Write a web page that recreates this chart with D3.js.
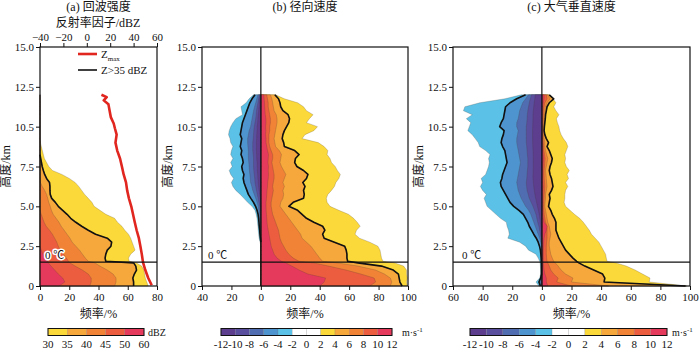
<!DOCTYPE html>
<html><head><meta charset="utf-8">
<script src="https://cdn.jsdelivr.net/npm/d3@7"></script>
<style>
body{margin:0;background:#fff}
svg{display:block}
text{font-family:"Liberation Serif","Times New Roman","Noto Sans CJK SC",serif;fill:#111}
</style>
</head><body>
<svg id="chart" width="700" height="350"></svg>
<script>
// Height levels (km) shared by every frequency profile
const heights = [0,0.25,0.5,0.75,1,1.25,1.45,1.55,1.75,2,
  2.25,2.5,2.75,3,3.25,3.5,3.75,4,4.25,4.5,
  4.75,5,5.25,5.5,5.75,6,6.25,6.5,6.75,7,
  7.25,7.5,7.75,8,8.25,8.5,8.75,9,9.25,9.5,
  9.75,10,10.25,10.5,10.75,11,11.25,11.5,11.75,12];

// (a) frequency (%) of reflectivity above 30/35/40/45/50 dBZ
const refl30 = [74,73,72,71.5,71,69.5,66,61,60.5,62, 65,64,63,62,60.5,58,56,53,51,45, 41,37,35.5,33,30.5,28.5,26.5,24,20,15, 8.5,6,4.5,3,2.3,1.6,0.9,0.3,0,0, 0,0,0,0,0,0,0,0,0,0];
const refl35 = [64,64,63.5,64.5,66,65.5,64,45,44.5,45, 46,48.5,49,46,38,33,28.5,24.5,21,18.5, 15.5,12.5,10.5,8,7,6.8,6.8,6.5,4.5,3.2, 2.3,1.5,1,0.5,0,0,0,0,0,0, 0,0,0,0,0,0,0,0,0,0];
const refl40 = [51,52,52,50,46,41,37.5,33,31,29, 27,24.5,22,20.5,18.5,16.5,14.5,13,11,9, 7.8,7,6,5.3,4.5,3.2,1.5,0.3,0,0, 0,0,0,0,0,0,0,0,0,0, 0,0,0,0,0,0,0,0,0,0];
const refl45 = [34,35,35,33,29,24,20.5,19.5,18,16, 14,12.5,11.5,10,8.5,6.5,4.2,2.8,1.8,0.8, 0,0,0,0,0,0,0,0,0,0, 0,0,0,0,0,0,0,0,0,0, 0,0,0,0,0,0,0,0,0,0];
const refl50 = [13,17,15.5,12.5,10,7.5,5.7,5,3.5,2, 0.8,0,0,0,0,0,0,0,0,0, 0,0,0,0,0,0,0,0,0,0, 0,0,0,0,0,0,0,0,0,0, 0,0,0,0,0,0,0,0,0,0];

// (a) maximum reflectivity profile (dBZ, upper axis)
const zmaxHeights = [0.05,0.5,1,1.5,2,2.5,3,3.5,4,4.5,5,5.5,6,6.5,7,7.5,8,8.5,9,9.5,9.9,10.2,10.6,11,11.4,11.65,11.85,12];
const zmaxValues  = [55.5,52.5,50,48,47,45.8,44.5,42.6,41,39.5,38,36,34.5,33.5,31.5,30,28.4,26,24.5,25.5,24,23,20.5,19.5,18.5,14.5,17,12.5];

// (b) radial velocity: frequency (%) of V > 2..10 and V < -2..-10 m/s
const radPos2  = [99.5,99,99.5,99,99,97,91,83,82,81.5, 81,79.5,74,67,64,65,67.5,65.5,63,59.5, 53,47,45,44.5,45.5,48,50,51,53,54, 52,50.5,48,47,45,45.5,43,39,28,30, 36,38.5,31,33,35.5,31,29,25,16,10];
const radPos4  = [96,94.5,94,93.5,90,82,66,59,58.5,58.5, 58,57,50,43,42,43.5,42,36,31,28, 25,19,22,29,29.5,29,30,28.5,31,32, 29,24.5,23,23.5,26,23,16,15.5,14.5,15, 16,17.5,19,19.5,18.5,15,13.5,13,12,9.5];
const radPos6  = [88,89,88,84,78,66,52,42,40,38, 36,34,31,28,27,25,23,21,19,17, 15,13,13.5,15,15.5,15,16,15,16,17, 15.5,14,13,13.5,14,12.5,10,9.5,9,9.5, 10,10.5,11,11,10.5,9,8.5,8,7.5,6.5];
const radPos8  = [74,78,77,68,58,46,36,26,22,19, 17,15.5,14,13,12.5,12,11,10,9,8, 7.5,7,7,7.5,8,8.5,8,8.5,9,9, 8.5,8,7.5,8,8,7,6,5.5,5.5,5.5, 6,6,6.5,6.5,6,5.5,5,5,4.5,4];
const radPos10 = [40,43,44,32,26,21,17,14,11,9, 8,7,6.5,6,5.5,5,4.5,4.2,4,3.8, 3.6,3.5,3.5,3.8,4,4.2,4.5,4.6,5,5.2, 5,5.2,4.8,5,5.2,4.5,4,3.5,3.5,3.2, 3.4,3.2,3.5,3.4,3,2.8,2.6,2.5,2.2,2];
const radNeg2  = [0,0,0,0,0,0,0,0,0,0, 0,0,0.5,1.2,1.5,1.8,2,2.3,2.6,3.2, 4,6,9,11.5,14,17,19,20,18.5,20.5, 21.5,19.5,20.5,19,20.5,20,19,20.5,21,22, 21.5,20.5,19,17,12.5,13,13.5,10,8,5];
const radNeg4  = [0,0,0,0,0,0,0,0,0,0, 0,0,0,0.3,0.6,0.8,1.1,1.3,1.5,1.9, 2.6,3.6,5,6.8,8.5,9.5,10.5,11.5,12,11.5, 12.5,13,12,12.5,13.5,13,14,13.5,13,14, 13.5,13,12.5,11.5,10.5,9.5,8.5,7.5,6,4];
const radNeg6  = [0,0,0,0,0,0,0,0,0,0, 0,0,0,0,0,0.4,0.5,0.7,0.8,1, 1.4,1.8,2.6,3.5,4.5,5.5,6.2,7,7.2,7.5, 7.8,8,8.2,8.5,8.5,8.5,8.8,9,9,8.5, 8,7,6.5,6,5.5,5,4.3,3.5,2.8,2];
const radNeg8  = [0,0,0,0,0,0,0,0,0,0, 0,0,0,0,0,0,0,0,0,0.4, 0.6,0.8,1.3,1.8,2.4,3,3.5,4,4.2,4.5, 4.8,5,5,5,5.2,5.5,5.5,5.5,5.2,5, 4.8,4.5,4,3.5,3.2,3,2.5,2,1.5,1];
const radNeg10 = [0,0,0,0,0,0,0,0,0,0, 0,0,0,0,0,0,0,0,0,0, 0,0,0.2,0.5,0.8,1.2,1.5,1.8,2,2.2, 2.4,2.5,2.6,2.8,2.9,3,3,3,2.9,2.8, 2.6,2.5,2.2,2,1.8,1.5,1.2,1,0.8,0.5];

// (c) vertical air velocity: frequency (%) of W > 2..10 and W < -2..-10 m/s
const vertPos2  = [98,72.5,73,68,63,57,50,44,43.5,43, 41.5,40,38.5,36,33.5,32,30,28,25.5,22, 19,16,15,15.5,15.5,16,17.5,16,18,17, 18.5,16.5,15.5,16,15.5,16.5,17.5,16.5,14.5,13, 12,11.5,10.5,9.8,11.5,9.5,8,9.5,7.5,5];
const vertPos4  = [97,42,42.5,41,35,29,25,23.5,21,18.5, 16,14.5,13,11.5,10.5,9.5,9.5,9.5,8.5,7, 6,4.5,5,5.5,5,6.5,7.5,7,6.5,5.5, 5,5.5,6.5,7,6,5,3.5,4.5,3,2, 1.5,1.7,2,2.3,2.5,3,3.5,5,8,5];
const vertPos6  = [45,20,21,16,13,11,9,8,7,6, 5.5,5,5,5.5,6,5.5,5,4,3.5,3, 2.5,2,2.2,2.5,2.5,3,3.5,3.2,3,2.8, 2.5,3,3.5,4,3.2,2.5,2,2,1.5,1.2, 1,1.2,1.3,1.5,1.8,2,2.5,3.5,5.5,4];
const vertPos8  = [20,10,11,8,6,5,4,3.5,3.2,3, 3,3,3.2,3.5,3.5,3.5,3.5,2.5,2,1.6, 1.4,1.2,1.3,1.5,1.6,1.8,2,1.8,1.6,1.5, 1.5,1.8,2,2.2,1.8,1.4,1.1,1,0.8,0.7, 0.6,0.6,0.7,0.8,0.9,1,1.5,2,3.5,3];
const vertPos10 = [4,3,3,2,1.5,1.2,1,1,1,1, 1,1.2,1.3,1.5,2,3,3.5,1.5,1,0.8, 0.7,0.6,0.6,0.7,0.7,0.8,0.9,0.8,0.7,0.7, 0.7,0.9,1,1.2,1,0.7,0.6,0.5,0.4,0.3, 0.3,0.3,0.3,0.4,0.5,0.5,0.7,1,1.5,1.5];
const vertNeg2  = [2,4,1.5,0.8,0.8,1,1.2,1.5,2.5,4, 9,11,15,23,22,22.5,23.5,24,28,31, 34,37,38,39,37.5,40,41.5,40,41,38, 37,36,35.5,36,35,38,42,43,45,47, 50,49,48,51,47,53,52,42,25,14];
const vertNeg4  = [1,2,0.8,0.3,0.3,0.3,0.3,0.4,0.5,0.7, 1,1.6,2.5,3.8,5.5,7,8.5,9.5,11,12.5, 15.5,19,21.5,23,24.5,26,27.5,28,27,26.5, 25.5,24.5,23.5,24,24.5,25,26.5,27.5,27,26, 25.5,28.5,27.5,26,25.5,25,24.5,21.5,17,11];
const vertNeg6  = [0.5,1,0.3,0,0,0,0,0,0,0, 0,0.4,0.8,1.5,2.5,3.5,4.5,5.5,6.5,7.5, 9,11,12.5,14,15,16,16.5,17,16.5,16, 15.5,15,14.5,15,15.5,16,16.5,17,17,16.5, 16,17,17,16,15.5,15,14,13,11,9];
const vertNeg8  = [0.2,0.5,0,0,0,0,0,0,0,0, 0,0,0.3,0.7,1,1.5,2,2.8,3.4,4, 5,6,7.2,8.5,9.2,10,10.3,10.5,10.2,10, 9.8,9.5,9.5,9.5,9.8,10,10.2,10.5,10.5,10.5, 10.5,10.5,10.2,10,9.8,9.5,9,8.5,7.8,7];
const vertNeg10 = [0,0,0,0,0,0,0,0,0,0, 0,0,0,0,0.3,0.5,0.8,1,1.4,1.8, 2.4,3,3.6,4.2,4.7,5.2,5.5,5.8,6,6, 5.9,5.8,5.8,5.8,5.9,6,6.1,6.2,6.3,6.3, 6.3,6.2,6.1,6,6,5.8,5.5,5.2,4.8,4.5];

// Axis ticks and colour scales
const yTickValues = [0,2.5,5,7.5,10,12.5,15];
const yTickLabels = ["0","2.5","5.0","7.5","10.5","12.5","15.0"];
const freqTicksA = [0,20,40,60,80];
const reflTicksTop = [-40,-20,0,20,40,60];
const freqTicksB = [-40,-20,0,20,40,60,80,100];
const freqTicksC = [-60,-40,-20,0,20,40,60,80,100];
const dbzLabels = ["30","35","40","45","50","60"];
const dbzColors = ["#fcd93a","#f6a83c","#f08336","#eb5d3e","#e63a5c"];
const velLabels = ["-12","-10","-8","-6","-4","-2","0","2","4","6","8","10","12"];
const velColors = ["#5c3d8e","#5a4e9f","#4f6db0","#4e95cf","#5bc1e6","#ffffff","#ffffff","#fcd93a","#f6a83c","#f08336","#eb5d3e","#e63a5c"];

const svg = d3.select("#chart");
const y = d3.scaleLinear().domain([0,15]).range([286,47]);
const FS = 11;

function bandArea(x, vals, sign){
  return d3.area()
    .x0(x(0))
    .x1((d,i) => x(sign*vals[i]))
    .y((d,i) => y(d))(heights);
}
function profileLine(x, vals, sign){
  return d3.line()
    .defined((d,i) => vals[i] > 0 || vals[i-1] > 0 || vals[i+1] > 0)
    .x((d,i) => x(sign*vals[i]))
    .y(d => y(d))(heights);
}
function drawBands(g, x, seriesList, colors, sign){
  seriesList.forEach((vals, k) => {
    g.append("path").attr("d", bandArea(x, vals, sign))
      .attr("fill", colors[k])
      .attr("stroke", "rgba(70,60,50,0.45)").attr("stroke-width", 0.5);
  });
}
function drawBlack(g, x, vals, sign){
  g.append("path").attr("d", profileLine(x, vals, sign))
    .attr("fill","none").attr("stroke","#111").attr("stroke-width",1.6)
    .attr("stroke-linejoin","round");
}
function styleAxis(ax){
  ax.select(".domain").remove();
  ax.selectAll("line").attr("stroke","#111");
  ax.selectAll("text").attr("font-size",FS).attr("font-family",null).style("fill","#111");
}
function frameAndAxes(x, ticks, title, cx){
  const [x0,x1] = x.range();
  const ax = svg.append("g").attr("transform",`translate(${x0},0)`)
    .call(d3.axisLeft(y).tickValues(yTickValues).tickFormat((d,i)=>yTickLabels[i]).tickSize(4).tickPadding(2));
  styleAxis(ax);
  const bx = svg.append("g").attr("transform",`translate(0,${y(0)})`)
    .call(d3.axisBottom(x).tickValues(ticks).tickFormat(d=>Math.abs(d)).tickSize(4).tickPadding(3));
  styleAxis(bx);
  svg.append("rect").attr("x",x0).attr("y",y(15)).attr("width",x1-x0).attr("height",y(0)-y(15))
    .attr("fill","none").attr("stroke","#111").attr("stroke-width",1.2);
  // 0 °C level
  svg.append("line").attr("x1",x0).attr("x2",x1).attr("y1",y(1.5)).attr("y2",y(1.5))
    .attr("stroke","#111").attr("stroke-width",1.2);
  svg.append("text").attr("x",(x0+x1)/2).attr("y",11).attr("text-anchor","middle")
    .attr("font-size",12).text(title);
  svg.append("text").attr("x",(x0+x1)/2).attr("y",318).attr("text-anchor","middle")
    .attr("font-size",12).text("频率/%");
  svg.append("text").attr("transform",`translate(${x0-30},${(y(0)+y(15))/2}) rotate(-90)`)
    .attr("text-anchor","middle").attr("font-size",12).text("高度/km");
}
function colorbar(x0, x1, colors, labels, unitX, unit, sup){
  const n = colors.length;
  const s = d3.scaleLinear().domain([0,n]).range([x0,x1]);
  const g = svg.append("g");
  g.selectAll("rect").data(colors).join("rect")
    .attr("x",(d,i)=>s(i)).attr("y",328.5).attr("width",(x1-x0)/n).attr("height",7)
    .attr("fill",d=>d).attr("stroke","rgba(120,120,120,0.5)").attr("stroke-width",0.4);
  g.append("rect").attr("x",x0).attr("y",328.5).attr("width",x1-x0).attr("height",7)
    .attr("fill","none").attr("stroke","#111").attr("stroke-width",1);
  g.selectAll("text.lab").data(labels).join("text").attr("class","lab")
    .attr("x",(d,i)=>s(i)).attr("y",347.5).attr("text-anchor","middle")
    .attr("font-size",FS).text(d=>d);
  const t = g.append("text").attr("x",unitX).attr("y",336).attr("font-size",10).text(unit);
  if (sup) t.append("tspan").attr("dy",-4).attr("font-size",7).text(sup);
}
function zeroLabel(x, halo){
  const t = svg.append("text").attr("x",x).attr("y",259).attr("font-size",FS).text("0 ℃");
  if (halo) t.attr("stroke","#fff").attr("stroke-width",3).attr("paint-order","stroke").attr("stroke-linejoin","round");
}

// ---------- (a) reflectivity ----------
const xA = d3.scaleLinear().domain([0,80]).range([40,157]);
const xTop = d3.scaleLinear().domain([-40,60]).range([40,157]);
const gA = svg.append("g");
drawBands(gA, xA, [refl30,refl35,refl40,refl45,refl50], dbzColors, 1);
drawBlack(gA, xA, refl35, 1);
gA.append("path")
  .attr("d", d3.line().x((d,i)=>xTop(zmaxValues[i])).y(d=>y(d))(zmaxHeights))
  .attr("fill","none").attr("stroke","#e0261f").attr("stroke-width",2.6).attr("stroke-linejoin","round");
frameAndAxes(xA, freqTicksA, "(a) 回波强度");
const topAx = svg.append("g").attr("transform",`translate(0,${y(15)})`)
  .call(d3.axisTop(xTop).tickValues(reflTicksTop).tickSize(4).tickPadding(2));
styleAxis(topAx);
svg.append("text").attr("x",98).attr("y",27).attr("text-anchor","middle").attr("font-size",12).text("反射率因子/dBZ");
zeroLabel(45, true);
// legend
svg.append("line").attr("x1",78).attr("x2",97).attr("y1",54).attr("y2",54).attr("stroke","#e0261f").attr("stroke-width",2.6);
const lz = svg.append("text").attr("x",101).attr("y",58).attr("font-size",FS).text("Z");
lz.append("tspan").attr("dy",3).attr("font-size",7).text("max");
svg.append("line").attr("x1",78).attr("x2",97).attr("y1",70).attr("y2",70).attr("stroke","#111").attr("stroke-width",1.6);
svg.append("text").attr("x",101).attr("y",74).attr("font-size",FS).text("Z>35 dBZ");
colorbar(48,144,dbzColors,dbzLabels,148,"dBZ");

// ---------- (b) radial velocity ----------
const xB = d3.scaleLinear().domain([-40,100]).range([202,408]);
const gB = svg.append("g");
drawBands(gB, xB, [radPos2,radPos4,radPos6,radPos8,radPos10], velColors.slice(7), 1);
drawBands(gB, xB, [radNeg2,radNeg4,radNeg6,radNeg8,radNeg10], velColors.slice(0,5).reverse(), -1);
drawBlack(gB, xB, radPos4, 1);
drawBlack(gB, xB, radNeg4, -1);
frameAndAxes(xB, freqTicksB, "(b) 径向速度");
svg.append("line").attr("x1",xB(0)).attr("x2",xB(0)).attr("y1",y(15)).attr("y2",y(0)).attr("stroke","#111").attr("stroke-width",1.2);
zeroLabel(208, false);
colorbar(221,392,velColors,velLabels,402,"m·s","-1");

// ---------- (c) vertical air velocity ----------
const xC = d3.scaleLinear().domain([-60,100]).range([453,690]);
const gC = svg.append("g");
drawBands(gC, xC, [vertPos2,vertPos4,vertPos6,vertPos8,vertPos10], velColors.slice(7), 1);
drawBands(gC, xC, [vertNeg2,vertNeg4,vertNeg6,vertNeg8,vertNeg10], velColors.slice(0,5).reverse(), -1);
drawBlack(gC, xC, vertPos4, 1);
drawBlack(gC, xC, vertNeg4, -1);
frameAndAxes(xC, freqTicksC, "(c) 大气垂直速度");
svg.append("line").attr("x1",xC(0)).attr("x2",xC(0)).attr("y1",y(15)).attr("y2",y(0)).attr("stroke","#111").attr("stroke-width",1.2);
zeroLabel(462, false);
colorbar(470,667,velColors,velLabels,672,"m·s","-1");
</script>
</body></html>
